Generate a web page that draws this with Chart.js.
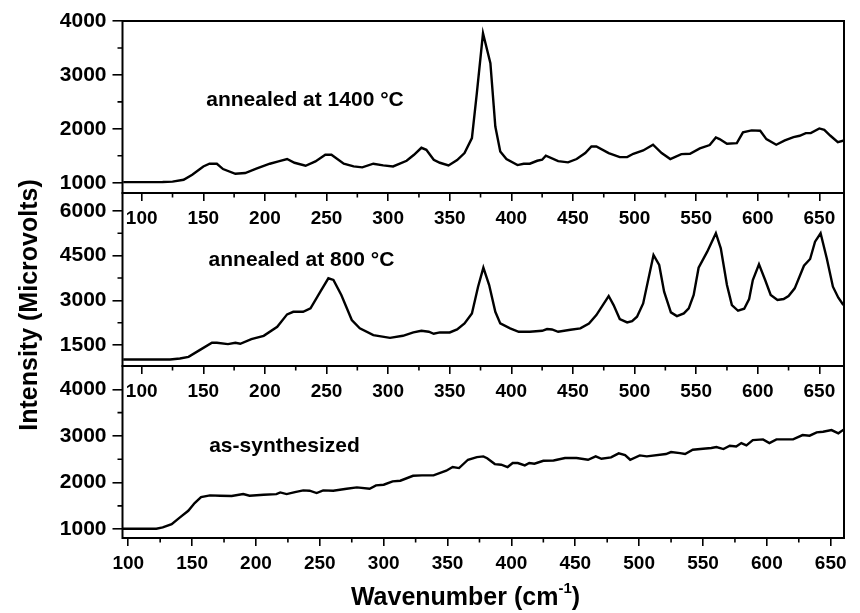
<!DOCTYPE html>
<html>
<head>
<meta charset="utf-8">
<script src="https://cdn.jsdelivr.net/npm/chart.js@4/dist/chart.umd.min.js"></script>
<style>
  html, body { margin: 0; padding: 0; background: #fff; }
  #wrap { position: relative; width: 860px; height: 613px; }
  #wrap canvas { position: absolute; left: 0; top: 0; }
</style>
</head>
<body>
<div id="wrap">
  <canvas id="c1" width="860" height="613"></canvas>
  <canvas id="c2" width="860" height="613"></canvas>
  <canvas id="c3" width="860" height="613"></canvas>
</div>
<script>
// ---------- DATA ----------
// annealed at 1400 °C (top panel)
const wn1400 = [85,100,117,125,134,141,150,155,161,166,176,184,193,204,211,218,224,233,241,249,254,264,272,279,288,296,304,315,321,327,331,337,342,349,356,362,368,372,377,383,387,391,396,405,410,415,421,425,428,438,446,453,460,465,469,479,488,494,499,507,515,522,529,538,545,553,561,566,569,575,583,588,595,602,607,615,622,629,634,639,643,650,654,659,665,670];
const int1400 = [1010,1010,1012,1020,1055,1148,1302,1352,1352,1253,1166,1180,1259,1352,1395,1439,1370,1315,1395,1518,1518,1352,1302,1284,1352,1321,1302,1407,1518,1648,1611,1426,1370,1321,1420,1550,1827,2661,3772,3217,2043,1580,1439,1327,1352,1352,1407,1426,1500,1401,1377,1439,1550,1672,1672,1550,1475,1475,1537,1599,1704,1550,1439,1531,1537,1636,1698,1840,1809,1722,1735,1933,1970,1963,1809,1704,1784,1846,1871,1920,1920,2007,1982,1871,1753,1784];

// annealed at 800 °C (middle panel)
const wn800 = [85,100,123,131,138,147,157,161,170,176,180,189,199,210,218,223,231,237,245,251.5,255.6,262,270.5,277,288,301.5,312,320.5,327,333,337,342,350,356,362,368,373,377.3,382,387,391,399,406,415,425,429,433,438,448,456,463,469,479,483,488,494,498,502,507,515.4,520,524,529.5,534.4,540,544,548,552,559,566,570,575,579,584,589,593,596,601,606,610.5,616,621,625,630,637.5,642.5,646.5,651,656,661,665.4,669.5];
const int800 = [1020,1020,1020,1053,1107,1332,1578,1578,1534,1578,1545,1702,1813,2115,2531,2618,2618,2733,3290,3740,3685,3179,2340,2061,1836,1745,1813,1925,1981,1948,1880,1925,1925,2026,2227,2563,3458,4096,3515,2618,2227,2061,1947,1947,1981,2038,2026,1947,2015,2061,2227,2507,3146,2843,2373,2261,2306,2451,2899,4522,4187,3290,2597,2474,2563,2731,3179,4096,4633,5251,4746,3515,2843,2652,2720,3045,3683,4210,3683,3179,3011,3045,3146,3404,4163,4388,4969,5251,4411,3458,3089,2843];

// as-synthesized (bottom panel)
const wnAs = [95.5,110,122,127,134,140.5,147,152,157,164,172,181,190,195,206,216,219,224,230.5,237,242,247.5,252.6,260.5,271,279,289,294,300,307,313,323,330,339,349,354,359,366,373,378,381,387,392,397,401,405,410.5,414,418,425,433,442,451,460,466,470.5,478,484,489,493,500.5,506,521,525,532,536,542,550,556.5,560.5,566,571,576,580,584,589,597,602,607.5,620.5,628,633.5,639,644,650.6,656,660.4];
const intAs = [1010,1010,1010,1037,1108,1252,1394,1559,1688,1724,1717,1710,1752,1717,1738,1752,1788,1752,1795,1831,1824,1774,1831,1824,1867,1896,1867,1939,1953,2025,2039,2145,2153,2153,2253,2332,2310,2489,2546,2561,2520,2396,2382,2332,2418,2418,2367,2418,2403,2467,2474,2525,2525,2489,2561,2510,2540,2626,2590,2489,2582,2561,2611,2654,2632,2611,2704,2726,2740,2761,2718,2790,2775,2847,2797,2911,2926,2847,2926,2926,3019,3005,3077,3090,3126,3055,3140];

// tick labels
const xTickLabels = [100,150,200,250,300,350,400,450,500,550,600,650];
const xMinorTicks = [125,175,225,275,325,375,425,475,525,575,625];
const yTicks1400 = [1000,2000,3000,4000];
const yMinor1400 = [1500,2500,3500];
const yTicks800 = [1500,3000,4500,6000];
const yMinor800 = [2250,3750,5250];
const yTicksAs = [1000,2000,3000,4000];
const yMinorAs = [1500,2500,3500];

const panelNotes = ["annealed at 1400 \u00B0C", "annealed at 800 \u00B0C", "as-synthesized"];
const yAxisTitle = "Intensity (Microvolts)";
const xAxisTitle = "Wavenumber (cm";
const xAxisTitleSup = "-1";

// ---------- LAYOUT ----------
const W = 860, H = 613;
const LEFT = 122.5, RIGHT = 844;
const YW = 80, XH = 40;
const FONT = '"Liberation Sans", Arial, sans-serif';

function panel(id, o) {
  const data = o.xs.map((x, i) => ({ x: x, y: o.ys[i] }));
  const deco = {
    id: 'deco' + id,
    afterDraw(chart) {
      const ctx = chart.ctx, a = chart.chartArea;
      const xs = chart.scales.x, ys = chart.scales.y;
      ctx.save();
      ctx.strokeStyle = '#000';
      ctx.lineWidth = 1.6;
      ctx.beginPath();
      o.xMinor.forEach(v => {
        const px = xs.getPixelForValue(v);
        ctx.moveTo(px, a.bottom); ctx.lineTo(px, a.bottom + 4.5);
      });
      o.yMinor.forEach(v => {
        const py = ys.getPixelForValue(v);
        ctx.moveTo(a.left - 5, py); ctx.lineTo(a.left, py);
      });
      ctx.stroke();
      ctx.lineWidth = 2;
      ctx.strokeRect(a.left, a.top, a.right - a.left, a.bottom - a.top);
      // panel note
      ctx.fillStyle = '#000';
      ctx.font = 'bold 21px ' + FONT;
      ctx.textAlign = 'center';
      ctx.textBaseline = 'middle';
      ctx.fillText(o.note, xs.getPixelForValue(o.noteX), ys.getPixelForValue(o.noteY));
      if (o.titles) {
        ctx.save();
        ctx.font = 'bold 25px ' + FONT;
        ctx.translate(30, 305);
        ctx.rotate(-Math.PI / 2);
        ctx.fillText(yAxisTitle, 0, 0);
        ctx.restore();
        ctx.font = 'bold 25px ' + FONT;
        const w1 = ctx.measureText(xAxisTitle).width;
        const w3 = ctx.measureText(')').width;
        ctx.font = 'bold 15px ' + FONT;
        const w2 = ctx.measureText(xAxisTitleSup).width;
        const cx = 465.5, cy = 598;
        let sx = cx - (w1 + w2 + w3) / 2;
        ctx.textAlign = 'left';
        ctx.font = 'bold 25px ' + FONT;
        ctx.fillText(xAxisTitle, sx, cy);
        ctx.font = 'bold 15px ' + FONT;
        ctx.fillText(xAxisTitleSup, sx + w1, cy - 9);
        ctx.font = 'bold 25px ' + FONT;
        ctx.fillText(')', sx + w1 + w2, cy);
      }
      ctx.restore();
    }
  };
  return new Chart(document.getElementById(id), {
    type: 'scatter',
    data: { datasets: [{ data: data, showLine: true, borderColor: '#000', borderWidth: 2.4, pointRadius: 0, tension: 0, fill: false }] },
    options: {
      responsive: false, animation: false, devicePixelRatio: 1,
      layout: { padding: { left: LEFT - YW, right: W - RIGHT, top: o.top, bottom: H - o.bottom - XH } },
      plugins: { legend: { display: false }, tooltip: { enabled: false } },
      scales: {
        x: {
          type: 'linear', min: o.xMin, max: o.xMax,
          afterBuildTicks: s => { s.ticks = xTickLabels.map(v => ({ value: v })); },
          afterFit: s => { s.height = XH; },
          grid: { drawOnChartArea: false, drawTicks: true, tickLength: 8, color: '#000', lineWidth: 1.6 },
          border: { display: false },
          ticks: { color: '#000', font: { family: FONT, size: 19, weight: 'bold' }, padding: 6, maxRotation: 0, autoSkip: false, callback: v => String(v) }
        },
        y: {
          type: 'linear', min: o.yMin, max: o.yMax,
          afterBuildTicks: s => { s.ticks = o.yTicks.map(v => ({ value: v })); },
          afterFit: s => { s.width = YW; },
          grid: { drawOnChartArea: false, drawTicks: true, tickLength: 10, color: '#000', lineWidth: 1.6 },
          border: { display: false },
          ticks: { color: '#000', font: { family: FONT, size: 21, weight: 'bold' }, padding: 6, autoSkip: false, callback: v => String(v) }
        }
      }
    },
    plugins: [deco]
  });
}

panel('c1', { xs: wn1400, ys: int1400, xMin: 84.4, xMax: 670, yMin: 809, yMax: 4000, yTicks: yTicks1400, yMinor: yMinor1400, xMinor: xMinorTicks, top: 21, bottom: 193, note: panelNotes[0], noteX: 232.5, noteY: 2537 });
panel('c2', { xs: wn800, ys: int800, xMin: 84.4, xMax: 670, yMin: 800, yMax: 6600, yTicks: yTicks800, yMinor: yMinor800, xMinor: xMinorTicks, top: 193, bottom: 366, note: panelNotes[1], noteX: 229.7, noteY: 4355 });
panel('c3', { xs: wnAs, ys: intAs, xMin: 95.5, xMax: 660.4, yMin: 810, yMax: 4500, yTicks: yTicksAs, yMinor: yMinorAs, xMinor: xMinorTicks, top: 366, bottom: 538, note: panelNotes[2], noteX: 222.3, noteY: 2783, titles: true });
</script>
</body>
</html>
